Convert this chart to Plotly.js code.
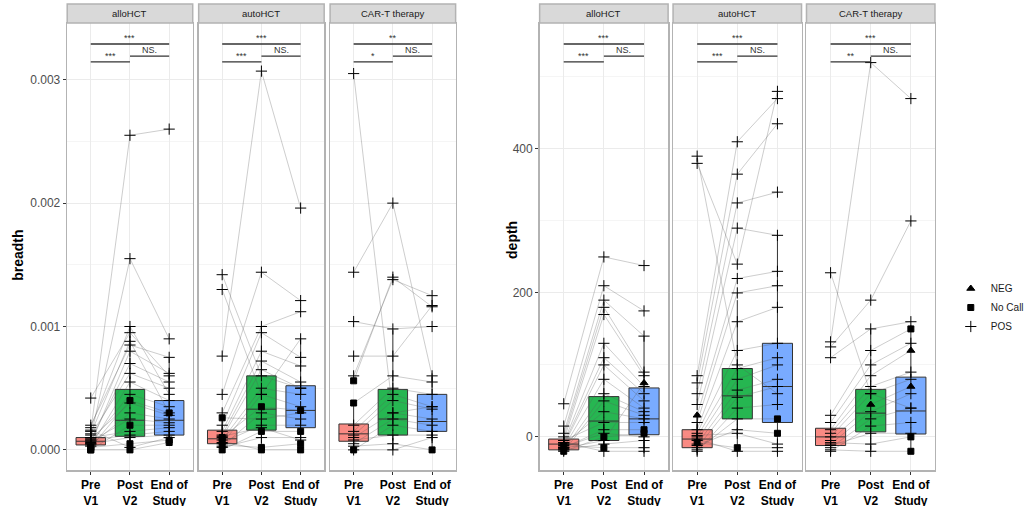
<!DOCTYPE html>
<html>
<head>
<meta charset="utf-8">
<script src="https://cdn.plot.ly/plotly-3.0.1.min.js"></script>
<style>body{margin:0;background:#fff}#chart{width:1029px;height:506px}</style>
</head>
<body>
<div id="chart"></div>
<script>
// categories and facets
const visits = ["Pre<br>V1", "Post<br>V2", "End of<br>Study"];
const therapies = ["alloHCT", "autoHCT", "CAR-T therapy"];
const boxColors = ["rgba(248,118,109,0.85)", "rgba(0,169,51,0.85)", "rgba(97,156,255,0.85)"];

// breadth values are read in units of 0.001
const BREADTH_UNIT = 0.001;

// box stats per facet: [lowerfence, q1, median, q3, upperfence] for Pre, Post, End
const breadthBoxes = [
  [[0, 0.04, 0.07, 0.10, 0.2], [0, 0.11, 0.24, 0.49, 1.0], [0.05, 0.12, 0.24, 0.40, 0.75]],
  [[0, 0.05, 0.09, 0.16, 0.28], [0, 0.16, 0.33, 0.60, 1.0], [0, 0.18, 0.32, 0.52, 0.9]],
  [[0, 0.07, 0.13, 0.21, 0.38], [0, 0.12, 0.25, 0.49, 0.97], [0, 0.15, 0.23, 0.45, 0.62]]
];
const depthBoxes = [
  [[-20, -18, -10, -3, 15], [-20, -5, 22, 56, 130], [-20, 3, 25, 68, 140]],
  [[-20, -15, -3, 10, 30], [-20, 25, 57, 95, 190], [-20, 20, 70, 130, 280]],
  [[-20, -12, 0, 12, 30], [-20, 7, 33, 66, 150], [-20, 4, 36, 83, 155]]
];

// subjects: [pre, post, end, shapes]  P = POS, N = NEG, C = No Call
const breadthAllo = [
  [0.42, 0.95, 0.6, "PPP"], [0.15, 2.55, 2.6, "PPP"], [0.1, 1.55, 0.9, "PPP"], [0.2, 0.85, 0.75, "PPP"],
  [0.05, 0.8, 0.62, "PPP"], [0.08, 0.7, 0.55, "PPP"], [0.12, 0.62, 0.5, "PPP"], [0.03, 0.55, 0.4, "PPP"],
  [0.06, 0.45, 0.35, "PPP"], [0.02, 0.4, 0.3, "CCC"], [0.09, 0.38, 0.28, "PPP"], [0.04, 0.3, 0.25, "PPP"],
  [0.07, 0.25, 0.22, "PPP"], [0.0, 0.2, 0.2, "CCP"], [0.1, 0.15, 0.18, "PPP"], [0.05, 0.1, 0.12, "PPP"],
  [0.02, 0.05, 0.08, "CCC"], [0.0, 0.0, 0.06, "CCC"], [0.16, 0.02, 0.1, "PPP"], [0.08, 0.12, 0.15, "PPP"],
  [0.18, 1.0, 0.45, "PPP"], [0.13, 0.88, 0.3, "PPP"]
];
const breadthAuto = [
  [1.42, 0.6, 0.5, "PPP"], [1.3, 0.45, 0.9, "PPP"], [0.76, 3.07, 1.96, "PPP"], [0.45, 1.44, 1.21, "PPP"],
  [0.3, 1.0, 1.12, "PPP"], [0.2, 0.95, 0.75, "PPP"], [0.15, 0.8, 0.68, "PPP"], [0.12, 0.72, 0.55, "PPP"],
  [0.1, 0.65, 0.5, "PPP"], [0.08, 0.5, 0.45, "PPP"], [0.05, 0.45, 0.35, "PPP"], [0.1, 0.35, 0.32, "CCC"],
  [0.03, 0.3, 0.25, "PPP"], [0.06, 0.2, 0.2, "PPP"], [0.0, 0.15, 0.15, "CCC"], [0.02, 0.1, 0.1, "PPP"],
  [0.04, 0.02, 0.05, "CCC"], [0.07, 0.0, 0.0, "CCC"], [0.11, 0.18, 0.08, "PPP"], [0.26, 0.25, 0.3, "CPP"]
];
const breadthCart = [
  [3.05, 0.3, 0.35, "PPP"], [1.44, 2.0, 0.6, "PPP"], [1.04, 0.98, 1.0, "PPP"], [0.76, 0.76, 1.17, "PPP"],
  [0.6, 1.38, 1.25, "PPP"], [0.56, 1.4, 1.16, "CPP"], [0.38, 0.6, 0.55, "CPP"], [0.2, 0.5, 0.45, "PPP"],
  [0.15, 0.45, 0.35, "PPP"], [0.12, 0.4, 0.33, "PPP"], [0.1, 0.3, 0.25, "PPP"], [0.05, 0.25, 0.2, "PPP"],
  [0.0, 0.2, 0.15, "PPP"], [0.08, 0.12, 0.12, "PPP"], [0.03, 0.05, 0.0, "PPC"], [0.0, 0.0, 0.1, "CPP"]
];
const depthAllo = [
  [46, 250, 238, "PPP"], [15, 210, 175, "PPP"], [5, 190, 140, "PPP"], [0, 180, 90, "PPP"],
  [-5, 170, 85, "PPP"], [-8, 130, 70, "PPP"], [-10, 110, 60, "PPP"], [-12, 100, 50, "PPP"],
  [-15, 80, 40, "PPP"], [-18, 60, 35, "PPP"], [-20, 50, 30, "PPP"], [-10, 35, 25, "PPP"],
  [-5, 20, 20, "PPP"], [-15, 10, 10, "PPC"], [-20, 0, 5, "CCC"], [-18, -10, -5, "PPP"],
  [-12, -15, -15, "CCP"], [-8, -20, -20, "PPP"], [-14, 5, 0, "PPP"], [-16, -5, 75, "PPN"]
];
const depthAuto = [
  [390, 100, 60, "PPP"], [380, 240, 480, "PPP"], [85, 410, 470, "PPP"], [75, 365, 435, "PPP"],
  [60, 325, 340, "PPP"], [45, 290, 280, "PPP"], [30, 220, 230, "NPP"], [20, 200, 210, "PPP"],
  [10, 160, 180, "PPP"], [5, 120, 130, "PPP"], [0, 95, 110, "PPP"], [-5, 80, 100, "PPP"],
  [-10, 65, 80, "PPP"], [-15, 55, 70, "PPP"], [-20, 40, 45, "PPP"], [-18, 25, 25, "PPC"],
  [-12, 10, 5, "PPC"], [-8, -15, -15, "CCP"], [-3, -20, -20, "PPP"], [2, 5, -10, "PPP"]
];
const depthCart = [
  [228, 60, 40, "PPP"], [132, 520, 470, "PPP"], [125, 190, 300, "PPP"], [110, 150, 160, "PPP"],
  [30, 120, 150, "PPC"], [20, 100, 130, "PPP"], [10, 85, 120, "PPN"], [5, 70, 90, "PPP"],
  [0, 60, 80, "PPP"], [-5, 45, 70, "PNN"], [-10, 35, 60, "PPP"], [-15, 25, 40, "PPP"],
  [-20, 15, 20, "PPP"], [-12, 5, 5, "PPP"], [-8, -10, 0, "PPC"], [-18, -20, -20, "PPC"]
];

// significance labels per facet: [Pre-End, Pre-Post, Post-End]
const sigBreadth = [["***", "***", "NS."], ["***", "***", "NS."], ["**", "*", "NS."]];
const sigDepth = [["***", "***", "NS."], ["***", "***", "NS."], ["***", "**", "NS."]];

const W = 1029, H = 506;
const px = v => v / W;
const facetPx = [[68, 195], [201, 328], [334, 461], [546, 676], [681, 811], [816, 946]];
const yDom = [1 - 470 / H, 1 - 23 / H];

const facets = [
  { boxes: breadthBoxes[0], subj: breadthAllo, sig: sigBreadth[0], scale: BREADTH_UNIT },
  { boxes: breadthBoxes[1], subj: breadthAuto, sig: sigBreadth[1], scale: BREADTH_UNIT },
  { boxes: breadthBoxes[2], subj: breadthCart, sig: sigBreadth[2], scale: BREADTH_UNIT },
  { boxes: depthBoxes[0], subj: depthAllo, sig: sigDepth[0], scale: 1 },
  { boxes: depthBoxes[1], subj: depthAuto, sig: sigDepth[1], scale: 1 },
  { boxes: depthBoxes[2], subj: depthCart, sig: sigDepth[2], scale: 1 }
];

const symbolOf = { P: "cross-thin-open", N: "triangle-up", C: "square" };
const sizeOf = { P: 8, N: 7, C: 6 };
const nameOf = { N: "NEG", C: "No Call", P: "POS" };

const traces = [];
const shapes = [];
const annotations = [];
const layout = {
  width: W, height: H,
  margin: { l: 0, r: 0, t: 0, b: 0 },
  paper_bgcolor: "#fff", plot_bgcolor: "#fff",
  font: { family: "Liberation Sans, Arial, sans-serif", color: "#4d4d4d" },
  showlegend: true,
  legend: { x: px(962), y: 1 - 274 / H, xanchor: "left", yanchor: "top", font: { size: 10, color: "#1a1a1a" },
    tracegroupgap: 0, itemwidth: 30, bgcolor: "rgba(0,0,0,0)", traceorder: "normal" },
  shapes: shapes, annotations: annotations
};

facets.forEach((f, i) => {
  const n = i + 1;
  const xa = n === 1 ? "x" : "x" + n, ya = n === 1 ? "y" : "y" + n;
  const isBreadth = i < 3;
  layout["xaxis" + (n === 1 ? "" : n)] = {
    domain: [px(facetPx[i][0]), px(facetPx[i][1])], anchor: ya, range: [0.4, 3.6],
    tickvals: [1, 2, 3], ticktext: visits.map(v => "<b>" + v + "</b>"),
    tickfont: { size: 12, color: "#000" }, ticks: "outside", ticklen: 3, tickcolor: "#333",
    showgrid: true, gridcolor: "#ebebeb", zeroline: false,
    showline: true, mirror: true, linecolor: "#b3b3b3", linewidth: 1.5
  };
  layout["yaxis" + (n === 1 ? "" : n)] = {
    domain: yDom, anchor: xa,
    range: isBreadth ? [-0.000163, 0.00346] : [-46, 575],
    dtick: isBreadth ? 0.001 : 200, tickformat: isBreadth ? ".3f" : "d",
    showticklabels: i === 0 || i === 3, tickfont: { size: 12, color: "#4d4d4d" },
    ticks: (i === 0 || i === 3) ? "outside" : "", ticklen: 3, tickcolor: "#333",
    showgrid: true, gridcolor: "#ebebeb", zeroline: false,
    minor: { dtick: isBreadth ? 0.0005 : 100, showgrid: true, gridcolor: "#f5f5f5" },
    showline: true, mirror: true, linecolor: "#b3b3b3", linewidth: 1.5
  };

  // boxes
  f.boxes.forEach((b, k) => {
    traces.push({
      type: "box", xaxis: xa, yaxis: ya, x: [k + 1],
      lowerfence: [b[0] * f.scale], q1: [b[1] * f.scale], median: [b[2] * f.scale],
      q3: [b[3] * f.scale], upperfence: [b[4] * f.scale],
      width: 0.75, whiskerwidth: 0, fillcolor: boxColors[k],
      line: { color: "#333", width: 1 }, boxpoints: false, showlegend: false, hoverinfo: "skip"
    });
  });

  // connecting lines per subject
  const lx = [], ly = [];
  f.subj.forEach(s => {
    for (let k = 0; k < 3; k++) { lx.push(k + 1); ly.push(s[k] * f.scale); }
    lx.push(null); ly.push(null);
  });
  traces.push({ type: "scatter", mode: "lines", xaxis: xa, yaxis: ya, x: lx, y: ly,
    line: { color: "rgba(90,90,90,0.3)", width: 1 }, showlegend: false, hoverinfo: "skip" });

  // points by status
  ["N", "C", "P"].forEach(code => {
    const px2 = [], py = [];
    f.subj.forEach(s => {
      for (let k = 0; k < 3; k++) if (s[3][k] === code) { px2.push(k + 1); py.push(s[k] * f.scale); }
    });
    traces.push({ type: "scatter", mode: "markers", xaxis: xa, yaxis: ya, x: px2, y: py,
      name: nameOf[code], legendgroup: code, showlegend: i === 3,
      marker: { symbol: symbolOf[code], size: sizeOf[code], color: "#000", line: { color: "#000", width: 1 } } });
  });

  // significance brackets (positioned in y domain)
  const yd = ya + " domain";
  const br = [[1, 3, 0.953], [1, 2, 0.913], [2, 3, 0.926]];
  br.forEach((b, k) => {
    shapes.push({ type: "line", xref: xa, yref: yd, x0: b[0], x1: b[1], y0: b[2], y1: b[2],
      line: { color: "#333", width: 1.3 } });
    annotations.push({ xref: xa, yref: yd, x: (b[0] + b[1]) / 2, y: b[2], yanchor: "bottom",
      text: f.sig[k], showarrow: false, font: { size: 9, color: "#333" }, yshift: -1 });
  });

  // strip header
  shapes.push({ type: "rect", xref: "paper", yref: "paper",
    x0: px(facetPx[i][0]), x1: px(facetPx[i][1]), y0: 1 - 23 / H, y1: 1 - 4 / H,
    fillcolor: "#d9d9d9", line: { color: "#b3b3b3", width: 1.5 } });
  annotations.push({ xref: "paper", yref: "paper", x: px((facetPx[i][0] + facetPx[i][1]) / 2), y: 1 - 13.5 / H,
    xanchor: "center", yanchor: "middle",
    text: therapies[i % 3], showarrow: false, font: { size: 9.5, color: "#1a1a1a" } });
});

// axis titles
annotations.push({ xref: "paper", yref: "paper", x: px(18), y: 1 - 255 / H, text: "<b>breadth</b>",
  xanchor: "center", yanchor: "middle",
  textangle: -90, showarrow: false, font: { size: 14, color: "#000" } });
annotations.push({ xref: "paper", yref: "paper", x: px(518), y: 1 - 240 / H, text: "<b>depth</b>",
  xanchor: "center", yanchor: "middle",
  textangle: -90, showarrow: false, font: { size: 14, color: "#000" } });

Plotly.newPlot("chart", traces, layout, { displayModeBar: false, staticPlot: true });
</script>
</body>
</html>
